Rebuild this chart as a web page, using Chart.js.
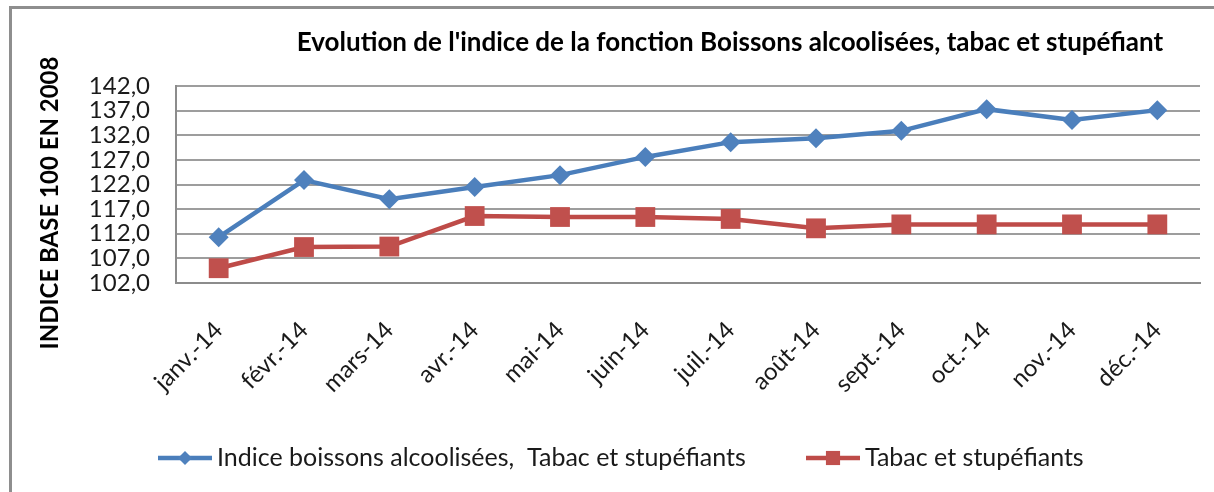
<!DOCTYPE html>
<html>
<head>
<meta charset="utf-8">
<script src="https://cdn.jsdelivr.net/npm/chart.js@4.4.1/dist/chart.umd.min.js"></script>
<style>
html, body { margin: 0; padding: 0; background: #fff; overflow: hidden; }
#wrap { position: relative; width: 1214px; height: 492px; }
#frame { position: absolute; left: 9px; top: 6px; width: 1300px; height: 600px; border: 3px solid #8e8e8e; box-sizing: border-box; }
canvas { position: absolute; left: 0; top: 0; }
</style>
</head>
<body>
<div id="wrap">
  <div id="frame"></div>
  <canvas id="chart" width="1214" height="492"></canvas>
</div>
<script>
// --- donnees ---
const months = ['janv.-14', 'févr.-14', 'mars-14', 'avr.-14', 'mai-14', 'juin-14',
                'juil.-14', 'août-14', 'sept.-14', 'oct.-14', 'nov.-14', 'déc.-14'];
const indiceBoissons = [111.3, 122.9, 119.0, 121.5, 123.9, 127.6, 130.6, 131.4, 132.9, 137.3, 135.1, 137.1];
const tabacStup = [105.0, 109.3, 109.4, 115.6, 115.4, 115.4, 115.0, 113.1, 113.9, 113.9, 113.9, 113.9];
const yTickValues = [102, 107, 112, 117, 122, 127, 132, 137, 142];

const chartTitle = "Evolution de l'indice de la fonction Boissons alcoolisées, tabac et stupéfiant";
const yTitle = 'INDICE BASE 100 EN 2008';
const seriesNames = ['Indice boissons alcoolisées,  Tabac et stupéfiants', 'Tabac et stupéfiants'];

const FONT = 'Lato';

// titre, titre de l'axe Y et legende dessines a la main (positions comme dans Excel)
const decor = {
  id: 'decor',
  afterDraw(chart) {
    const ctx = chart.ctx;
    ctx.save();
    ctx.fillStyle = '#000';
    ctx.textAlign = 'center';
    ctx.textBaseline = 'middle';
    ctx.font = `bold 26px ${FONT}`;
    ctx.fillText(chartTitle, 730, 43);

    ctx.translate(50, 203);
    ctx.rotate(-Math.PI / 2);
    ctx.font = `bold 24px ${FONT}`;
    ctx.fillText(yTitle, 0, 0);
    ctx.restore();

    // legende
    const legendX = [158, 806];
    const legendY = 458;
    chart.data.datasets.forEach((ds, i) => {
      const x0 = legendX[i];
      ctx.save();
      ctx.strokeStyle = ds.borderColor;
      ctx.lineWidth = 4.5;
      ctx.beginPath();
      ctx.moveTo(x0, legendY);
      ctx.lineTo(x0 + 54, legendY);
      ctx.stroke();
      ctx.fillStyle = ds.backgroundColor;
      Chart.helpers.drawPoint(ctx, {
        pointStyle: ds.pointStyle,
        radius: ds.pointStyle === 'rect' ? 10 : 7,
        rotation: 0,
        borderWidth: 0
      }, x0 + 27, legendY);
      ctx.fillStyle = '#1a1a1a';
      ctx.font = `25px ${FONT}`;
      ctx.textAlign = 'left';
      ctx.textBaseline = 'middle';
      ctx.fillText(ds.label, x0 + 59, legendY);
      ctx.restore();
    });
  }
};

new Chart(document.getElementById('chart'), {
  type: 'line',
  data: {
    labels: months,
    datasets: [{
      label: seriesNames[0],
      data: indiceBoissons,
      borderColor: '#4A7EBB',
      backgroundColor: '#4F81BD',
      borderWidth: 4.5,
      pointStyle: 'rectRot',
      pointRadius: 10,
      pointBorderWidth: 0,
      tension: 0
    }, {
      label: seriesNames[1],
      data: tabacStup,
      borderColor: '#BE4B48',
      backgroundColor: '#C0504D',
      borderWidth: 4.5,
      pointStyle: 'rect',
      pointRadius: 14,
      pointBorderWidth: 0,
      tension: 0
    }]
  },
  options: {
    responsive: false,
    animation: false,
    layout: { padding: { top: 86, right: 6, left: 0, bottom: 0 } },
    plugins: { legend: { display: false }, tooltip: { enabled: false } },
    scales: {
      x: {
        offset: true,
        grid: { display: false, drawTicks: false },
        border: { display: true, color: '#8c8c8c', width: 2 },
        ticks: {
          autoSkip: false,
          minRotation: 45,
          maxRotation: 45,
          padding: 33,
          color: '#1a1a1a',
          font: { family: FONT, size: 24 }
        },
        afterFit(scale) { scale.height = 209; }
      },
      y: {
        min: 102,
        max: 142,
        grid: { color: '#9d9d9d', lineWidth: 2, drawTicks: false },
        border: { display: true, color: '#8c8c8c', width: 2 },
        ticks: {
          autoSkip: false,
          padding: 26,
          color: '#1a1a1a',
          font: { family: FONT, size: 24 },
          callback: (v) => v.toFixed(1).replace('.', ',')
        },
        afterBuildTicks(scale) { scale.ticks = yTickValues.map(v => ({ value: v })); },
        afterFit(scale) { scale.width = 176; }
      }
    }
  },
  plugins: [decor]
});
</script>
</body>
</html>
